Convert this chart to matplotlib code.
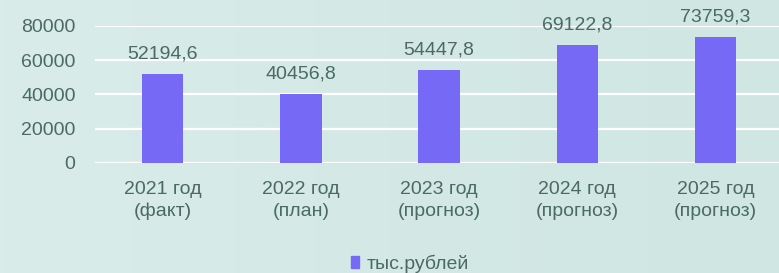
import numpy as np
import matplotlib
matplotlib.use("Agg")
import matplotlib.pyplot as plt
from matplotlib.colors import LinearSegmentedColormap

categories = ["2021 год\n(факт)", "2022 год\n(план)", "2023 год\n(прогноз)",
              "2024 год\n(прогноз)", "2025 год\n(прогноз)"]
values = [52194.6, 40456.8, 54447.8, 69122.8, 73759.3]
labels = ["52194,6", "40456,8", "54447,8", "69122,8", "73759,3"]
yticks = [0, 20000, 40000, 60000, 80000]
series_name = "тыс.рублей"

text_color = "#4a6a62"
bar_color = "#7669f6"
fs = 14

plt.rcParams["font.family"] = ["Liberation Sans", "DejaVu Sans"]

fig = plt.figure(figsize=(7.79, 2.73), dpi=100)

# soft teal background gradient
bg = fig.add_axes([0, 0, 1, 1], zorder=-10)
grad = np.linspace(0, 1, 256).reshape(1, -1)
grad = np.vstack([grad, grad])
cmap = LinearSegmentedColormap.from_list("bg", ["#d9ecea", "#cfe6e2"])
bg.imshow(grad, aspect="auto", cmap=cmap, extent=[0, 1, 0, 1])
bg.axis("off")

ax = fig.add_axes([0.122, 0.403, 0.878, 0.502])
ax.patch.set_alpha(0)
x = np.arange(len(categories))
ax.bar(x, values, width=0.3, color=bar_color, zorder=3)
for xi, v, lab in zip(x, values, labels):
    ax.annotate(lab, (xi, v), xytext=(0, 14), textcoords="offset points",
                ha="center", va="center", fontsize=fs, color=text_color,
                annotation_clip=False)

ax.set_ylim(0, 80000)
ax.set_xlim(-0.49, 4.46)
ax.set_yticks(yticks)
ax.set_yticklabels([str(t) for t in yticks], fontsize=fs, color=text_color)
ax.set_xticks(x)
ax.set_xticklabels(categories, fontsize=fs, color=text_color, linespacing=1.35)
ax.tick_params(length=0, axis="y", pad=14)
ax.tick_params(length=0, axis="x", pad=13)
ax.grid(axis="y", color="white", linewidth=1.6, zorder=0)
for s in ax.spines.values():
    s.set_visible(False)

fig.legend([plt.Rectangle((0, 0), 1, 1, color=bar_color)], [series_name],
           loc="center", bbox_to_anchor=(0.526, 0.035), frameon=False,
           fontsize=fs, handlelength=0.4, handleheight=0.55, handletextpad=0.4,
           labelcolor=text_color)

fig.savefig("out.png", dpi=100)
